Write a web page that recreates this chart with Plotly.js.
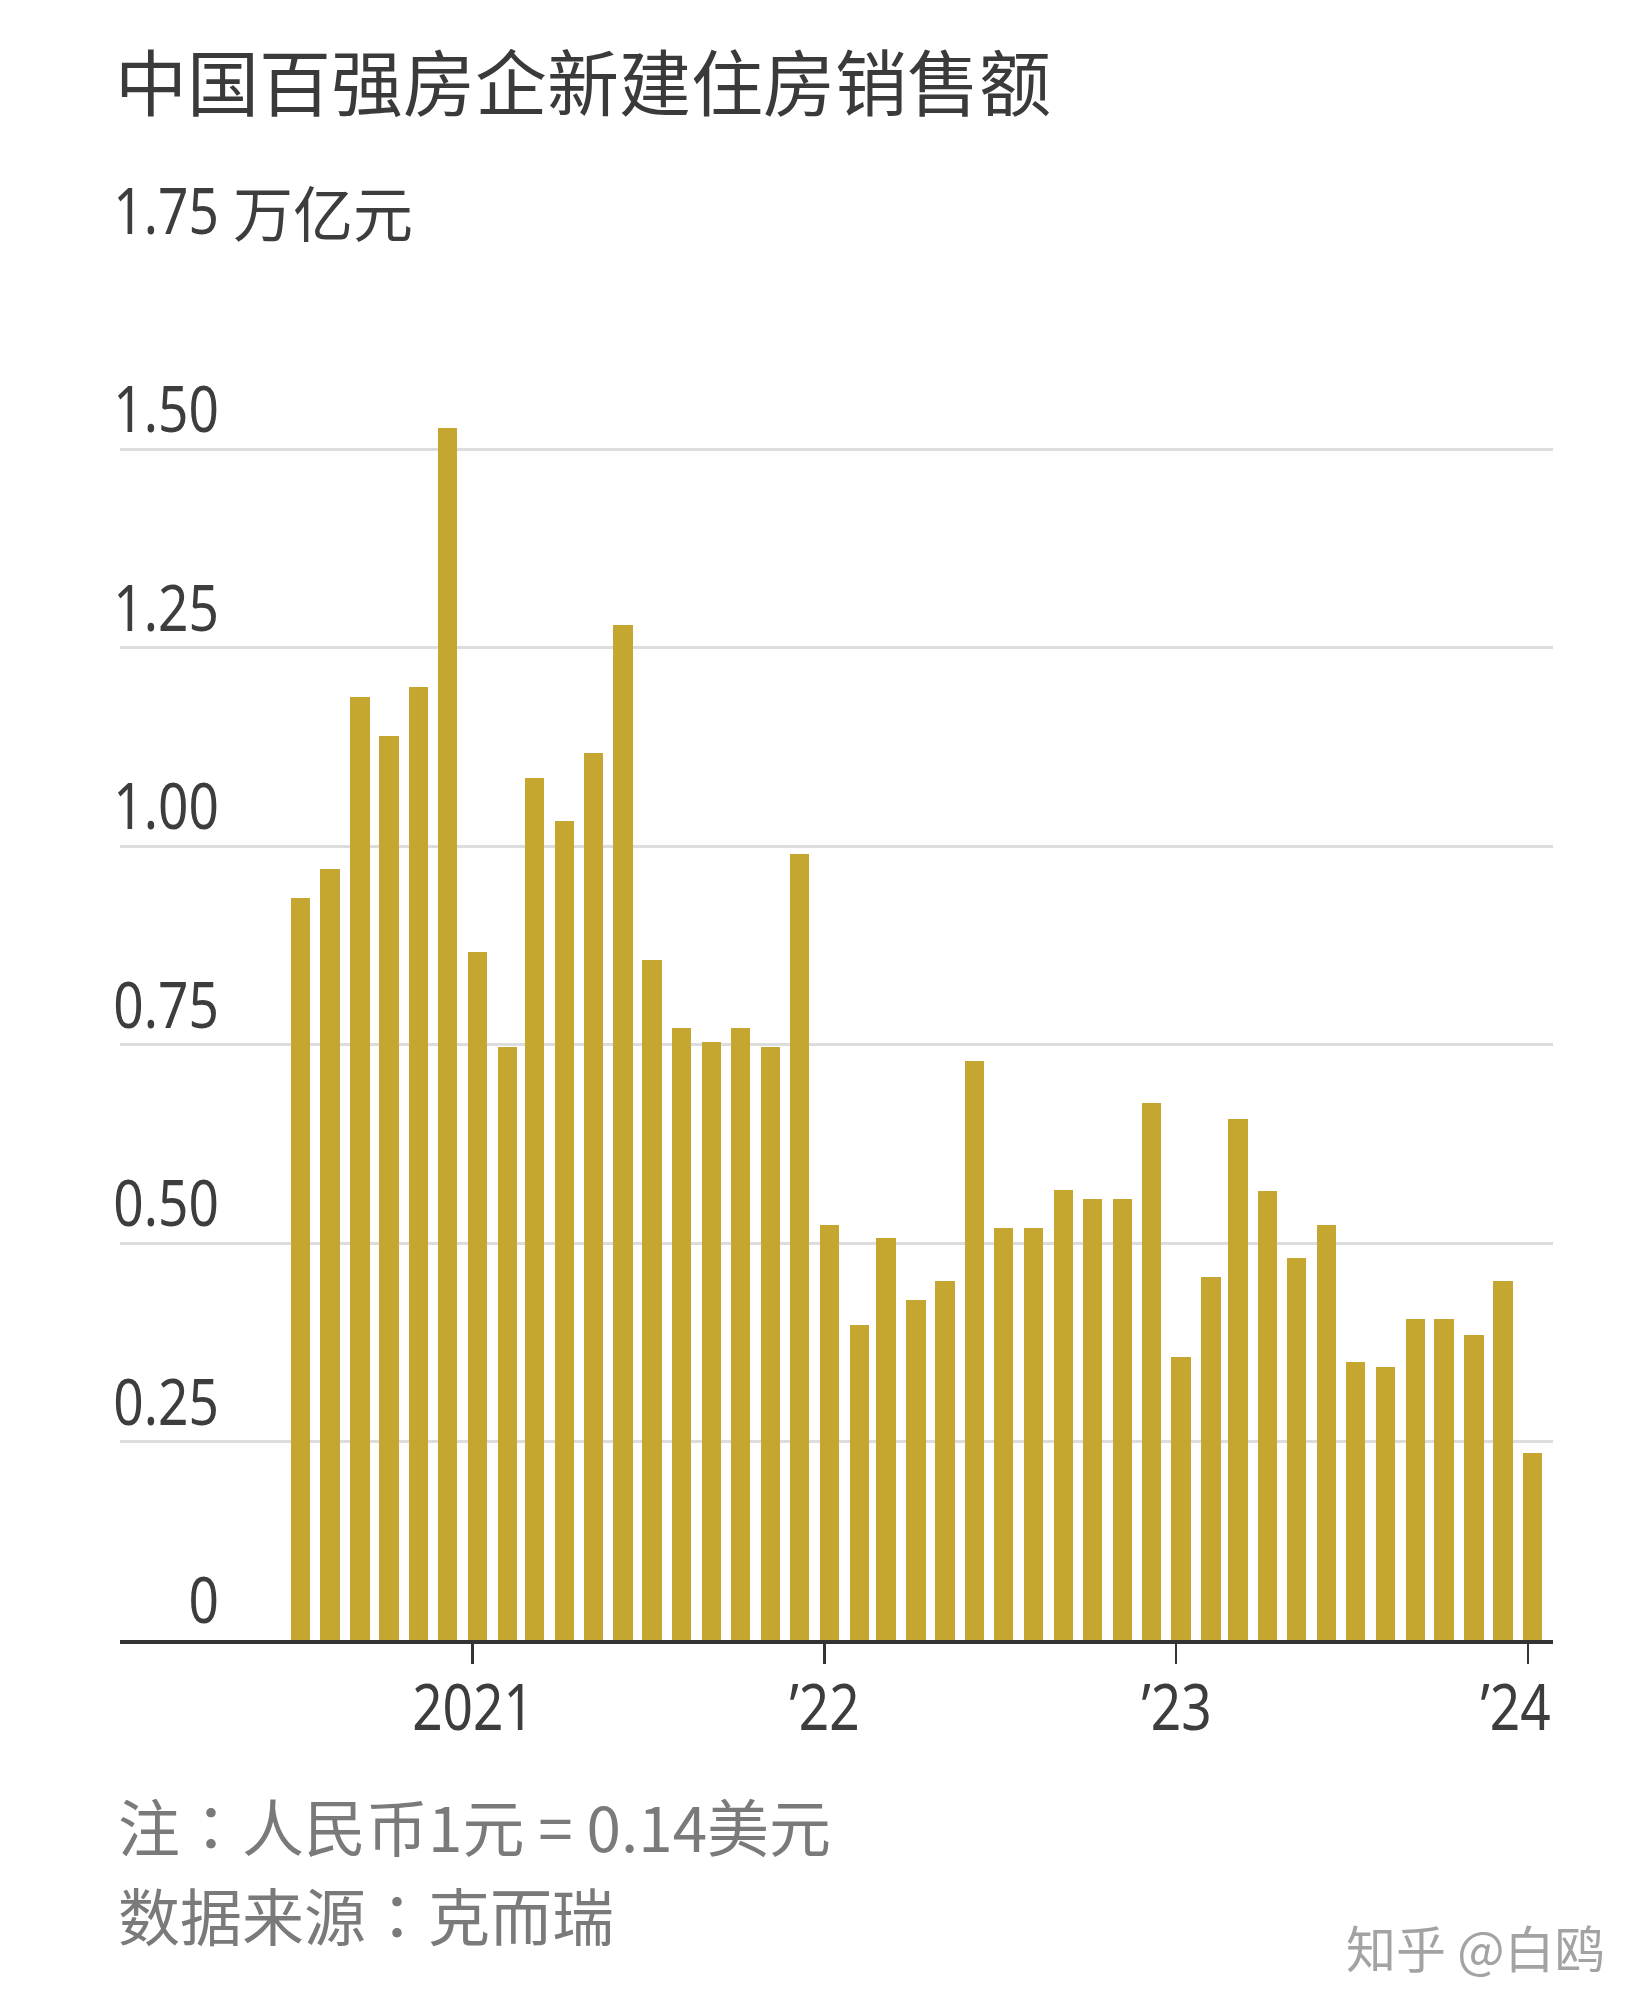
<!DOCTYPE html>
<html>
<head>
<meta charset="utf-8">
<script src="https://cdn.plot.ly/plotly-3.0.1.min.js"></script>
<style>
  html, body { margin: 0; padding: 0; background: #ffffff; }
  #chart { width: 1650px; height: 2016px; }
</style>
</head>
<body>
<div id="chart"></div>
<script>
// Months (bar start dates), Jul 2020 – Jan 2024
const months = [
  "2020-07-01","2020-08-01","2020-09-01","2020-10-01","2020-11-01","2020-12-01",
  "2021-01-01","2021-02-01","2021-03-01","2021-04-01","2021-05-01","2021-06-01",
  "2021-07-01","2021-08-01","2021-09-01","2021-10-01","2021-11-01","2021-12-01",
  "2022-01-01","2022-02-01","2022-03-01","2022-04-01","2022-05-01","2022-06-01",
  "2022-07-01","2022-08-01","2022-09-01","2022-10-01","2022-11-01","2022-12-01",
  "2023-01-01","2023-02-01","2023-03-01","2023-04-01","2023-05-01","2023-06-01",
  "2023-07-01","2023-08-01","2023-09-01","2023-10-01","2023-11-01","2023-12-01",
  "2024-01-01"
];
// Sales, trillion yuan (万亿元)
const sales = [
  0.935, 0.971, 1.188, 1.139, 1.201, 1.527,
  0.867, 0.747, 1.086, 1.032, 1.117, 1.279,
  0.857, 0.771, 0.754, 0.771, 0.747, 0.990,
  0.523, 0.397, 0.507, 0.428, 0.452, 0.729,
  0.519, 0.519, 0.567, 0.556, 0.556, 0.676,
  0.357, 0.457, 0.656, 0.566, 0.481, 0.523,
  0.350, 0.344, 0.404, 0.404, 0.384, 0.452,
  0.235
];
const xTickVals = ["2021-01-01","2022-01-01","2023-01-01","2024-01-01"];
const xTickText = ["2021","\u201922","\u201923","\u201924"];
const yTickVals = [0, 0.25, 0.5, 0.75, 1.0, 1.25, 1.5, 1.75];
const yTickText = ["0","0.25","0.50","0.75","1.00","1.25","1.50","1.75"];
const yUnit = "万亿元";
const titleText = "中国百强房企新建住房销售额";
const noteText = "注：人民币1元 = 0.14美元";
const sourceText = "数据来源：克而瑞";
const watermark = "知乎 @白鸥";

const DAY = 86400000;
const NUM = '"Noto Sans", "DejaVu Sans", sans-serif';
const CJK = '"Noto Sans CJK SC", "Noto Sans", sans-serif';
const CJK_NOTE = '"Noto Sans CJK TC", "Noto Sans CJK SC", sans-serif';
const NARROW_SCALE = 0.845;

const trace = {
  type: "bar",
  x: months,
  y: sales,
  width: months.map(() => 20 * DAY),
  offset: -5 * DAY,
  marker: { color: "#c4a631", line: { width: 0 } },
  hoverinfo: "skip"
};

const annotations = [];
const narrow = []; // [annotation index, origin side]
yTickVals.forEach((v, i) => {
  narrow.push([annotations.length, "right"]);
  annotations.push({
    xref: "paper", yref: "y", x: 0.0705, y: v,
    xanchor: "right", yanchor: "bottom", yshift: -3,
    text: yTickText[i], showarrow: false,
    font: { family: NUM, size: 63, color: "#3d3d3d" }
  });
});
xTickVals.forEach((v, i) => {
  narrow.push([annotations.length, "center"]);
  annotations.push({
    xref: "x", yref: "paper", x: v, y: -0.0468,
    xanchor: "center", yanchor: "middle",
    xshift: i === xTickVals.length - 1 ? -12 : 0,
    text: xTickText[i], showarrow: false,
    font: { family: NUM, size: 63, color: "#3d3d3d" }
  });
});
annotations.push({
  xref: "paper", yref: "y", x: 0.0775, y: 1.75,
  xanchor: "left", yanchor: "bottom", yshift: -5,
  text: yUnit, showarrow: false,
  font: { family: CJK, size: 60, color: "#3d3d3d" }
});
annotations.push({
  xref: "paper", yref: "paper", x: 0, y: -0.1330, xshift: -4,
  xanchor: "left", yanchor: "middle",
  text: noteText, showarrow: false,
  font: { family: CJK_NOTE, size: 62, color: "#7a7a7a" }
});
annotations.push({
  xref: "paper", yref: "paper", x: 0, y: -0.1975, xshift: -4,
  xanchor: "left", yanchor: "middle",
  text: sourceText, showarrow: false,
  font: { family: CJK_NOTE, size: 62, color: "#7a7a7a" }
});
annotations.push({
  xref: "paper", yref: "paper", x: 1.0377, y: -0.2200,
  xanchor: "right", yanchor: "middle",
  text: watermark, showarrow: false,
  font: { family: CJK, size: 50, color: "#a3a3a3" }
});

const layout = {
  width: 1650,
  height: 2016,
  paper_bgcolor: "#ffffff",
  plot_bgcolor: "#ffffff",
  margin: { l: 120, r: 97, t: 251, b: 376 },
  showlegend: false,
  bargap: 0,
  title: {
    text: titleText,
    xref: "container", yref: "container",
    x: 0.0697, xanchor: "left",
    y: 0.958, yanchor: "middle",
    font: { family: CJK, size: 72, color: "#3a3a3a" }
  },
  xaxis: {
    type: "date",
    range: ["2020-01-01", "2024-01-27"],
    tickvals: xTickVals,
    ticktext: xTickText,
    showticklabels: false,
    ticks: "outside",
    ticklen: 20,
    tickwidth: 2.5,
    tickcolor: "#333333",
    showgrid: false,
    zeroline: false,
    showline: true,
    linecolor: "#333333",
    linewidth: 3.5,
    fixedrange: true
  },
  yaxis: {
    range: [0, 1.75],
    tickvals: yTickVals.slice(1),
    showticklabels: false,
    showgrid: true,
    gridcolor: "#dddddd",
    gridwidth: 2.8,
    zeroline: false,
    showline: false,
    ticks: "",
    fixedrange: true
  },
  annotations: annotations
};

Plotly.newPlot("chart", [trace], layout, { staticPlot: true, displayModeBar: false }).then(gd => {
  // Condense numeric labels horizontally to imitate the narrow typeface.
  narrow.forEach(([idx, side]) => {
    const el = gd.querySelector('.annotation[data-index="' + idx + '"] text.annotation-text');
    if (!el) return;
    const bb = el.getBBox();
    const ox = side === "right" ? bb.x + bb.width : bb.x + bb.width / 2;
    const prev = el.getAttribute("transform") || "";
    el.setAttribute("transform", prev + " translate(" + ox + ",0) scale(" + NARROW_SCALE + ",1) translate(" + (-ox) + ",0)");
  });
});
</script>
</body>
</html>
